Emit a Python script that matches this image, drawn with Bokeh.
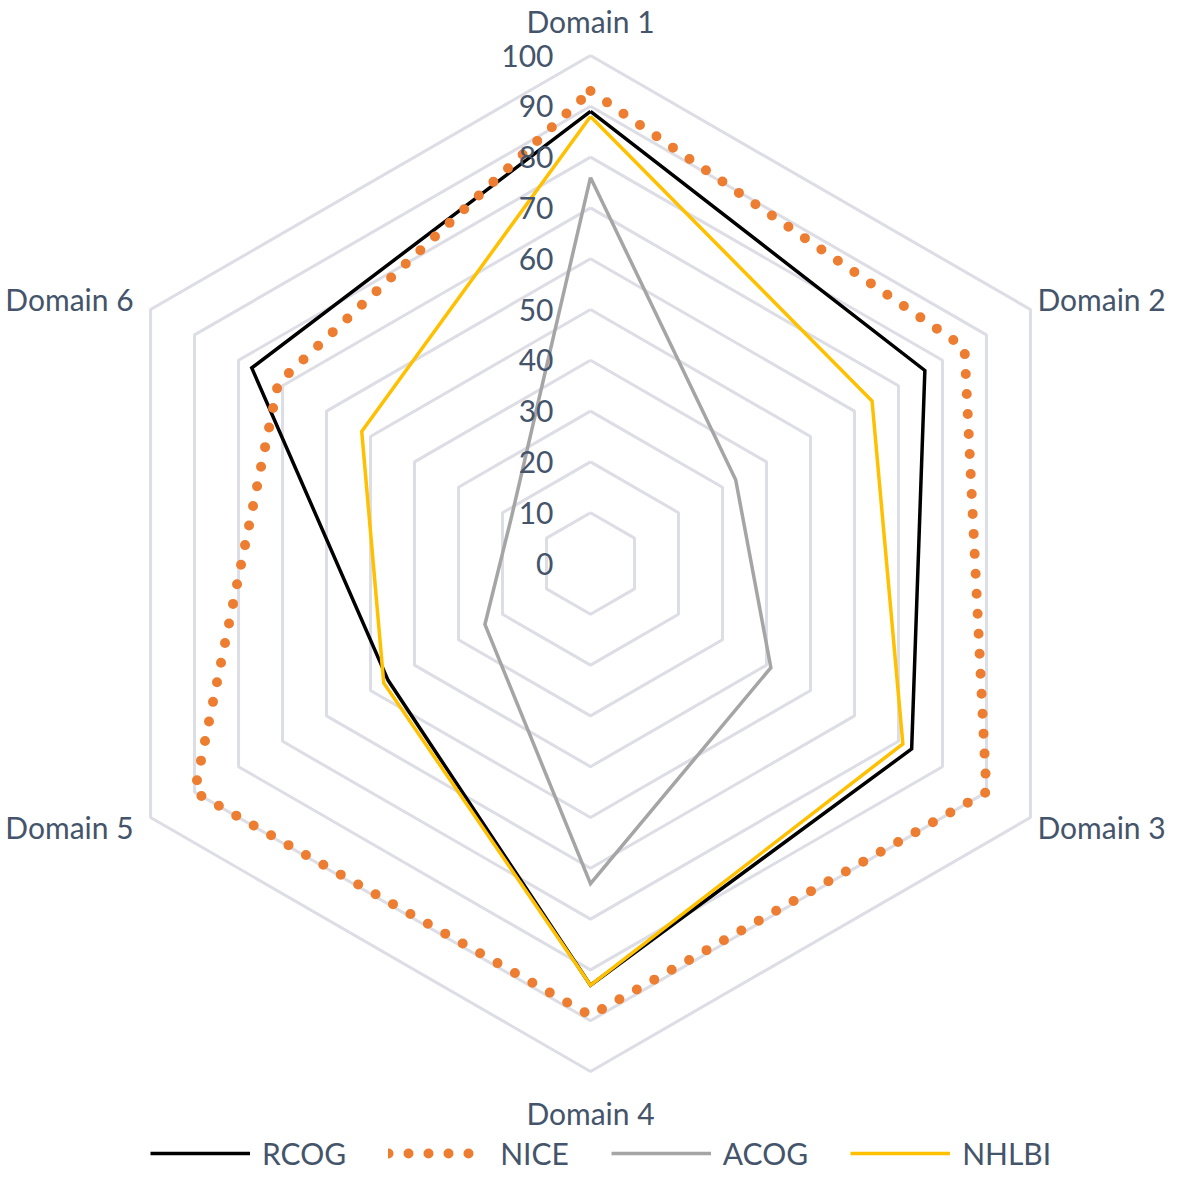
import numpy as np
from bokeh.plotting import figure
from bokeh.models import Legend, LegendItem
from bokeh.core.properties import value
from bokeh.embed import file_html
from bokeh.resources import INLINE

# ---- data ----
domains = ["Domain 1", "Domain 2", "Domain 3", "Domain 4", "Domain 5", "Domain 6"]
rcog = [89, 76, 73, 83, 46, 77]
nice = [93, 85, 90, 89, 90, 71]
acog = [76, 33, 41, 63, 24, 18]
nhlbi = [88, 64, 71, 83, 47, 52]
ticks = [0, 10, 20, 30, 40, 50, 60, 70, 80, 90, 100]
tick_labels = ["0", "10", "20", "30", "40", "50", "60", "70", "80", "90", "100"]

TEXT = "#44546A"
GRID = "#DCDDE5"
FONT = "Lato"

S = 5.08  # px per unit
W, H = 1165, 1173
cx, cy = 590.0, 563.0  # centre in frame pixels
x0 = -cx / S
y1 = cy / S

p = figure(width=W, height=H, output_backend="svg", toolbar_location=None,
           x_range=(x0, x0 + W / S), y_range=(y1 - H / S, y1),
           min_border=0, outline_line_color=None)
p.axis.visible = False
p.grid.visible = False

n = len(domains)
ang = np.pi / 2 - np.arange(n) * 2 * np.pi / n


def poly(vals):
    v = np.asarray(vals, dtype=float)
    xs = v * np.cos(ang)
    ys = v * np.sin(ang)
    return list(np.append(xs, xs[0])), list(np.append(ys, ys[0]))


# grid hexagons
gx, gy = [], []
for t in ticks[1:]:
    xs, ys = poly([t] * n)
    gx.append(xs)
    gy.append(ys)
p.multi_line(gx, gy, line_color=GRID, line_width=3)

# series
series = [
    ("RCOG", rcog, dict(line_color="#000000", line_width=3.5)),
    ("NICE", nice, dict(line_color="#ED7D31", line_width=10, line_dash="0 20", line_cap="round")),
    ("ACOG", acog, dict(line_color="#A5A5A5", line_width=3.5)),
    ("NHLBI", nhlbi, dict(line_color="#FFC000", line_width=3.5)),
]
items = []
for name, vals, style in series:
    xs, ys = poly(vals)
    r = p.line(xs, ys, line_join="miter", **style)
    items.append(LegendItem(label=name, renderers=[r]))

# radial tick labels
p.text(x=[0] * len(ticks), y=ticks, text=tick_labels, x_offset=-37,
       text_align="right", text_baseline="middle", text_color=TEXT,
       text_font=value(FONT), text_font_size="30px")

# domain labels
offs = [(0, -35, "center"), (7, -11, "left"), (7, 9, "left"),
        (0, 41, "center"), (-17, 9, "right"), (-17, -11, "right")]
lx = [100 * np.cos(a) + o[0] / S for a, o in zip(ang, offs)]
ly = [100 * np.sin(a) - o[1] / S for a, o in zip(ang, offs)]
for i in range(n):
    p.text(x=[lx[i]], y=[ly[i]], text=[domains[i]], text_align=offs[i][2],
           text_baseline="middle", text_color=TEXT, text_font=value(FONT),
           text_font_size="30px")

legend = Legend(items=items, orientation="horizontal", location=(150, 2),
                glyph_width=100, glyph_height=24, label_standoff=12, spacing=42,
                padding=0, margin=0, border_line_alpha=0, background_fill_alpha=0,
                label_text_font=FONT, label_text_font_size="30px",
                label_text_color=TEXT, label_height=24)
p.add_layout(legend)

open("out.html", "w").write(file_html(p, INLINE))
